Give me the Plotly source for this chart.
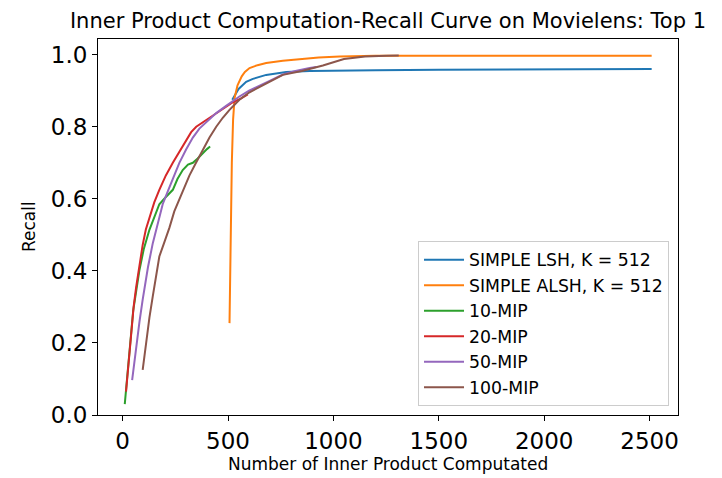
import plotly.graph_objects as go

# ---- data ----
lsh_x = [520, 550, 586, 618, 681, 776, 887, 1000, 1200, 1500, 1800, 2100, 2510]
lsh_y = [0.875, 0.905, 0.925, 0.933, 0.944, 0.952, 0.955, 0.956, 0.957, 0.958, 0.959, 0.960, 0.960]

alsh_x = [507, 510, 512, 515, 518, 524, 531, 545, 565, 580, 602, 640, 681, 760, 840, 930, 1030, 1200, 1500, 2000, 2510]
alsh_y = [0.255, 0.40, 0.55, 0.65, 0.70, 0.82, 0.88, 0.915, 0.94, 0.952, 0.963, 0.971, 0.977, 0.983, 0.988, 0.992, 0.995, 0.997, 0.997, 0.997, 0.997]

mip10_x = [10, 16, 30, 50, 79, 100, 127, 150, 174, 205, 238, 260, 285, 310, 333, 356, 380, 400, 415]
mip10_y = [0.03, 0.07, 0.17, 0.29, 0.40, 0.46, 0.514, 0.55, 0.585, 0.605, 0.625, 0.655, 0.68, 0.695, 0.70, 0.712, 0.727, 0.738, 0.745]

mip20_x = [16, 28, 40, 52, 64, 80, 95, 110, 127, 150, 174, 205, 238, 269, 301, 325, 349, 380, 412, 450, 491, 523, 560, 594]
mip20_y = [0.065, 0.15, 0.235, 0.30, 0.355, 0.42, 0.472, 0.515, 0.55, 0.59, 0.625, 0.665, 0.70, 0.73, 0.765, 0.785, 0.80, 0.812, 0.825, 0.84, 0.855, 0.868, 0.878, 0.89]

mip50_x = [45, 60, 80, 95, 120, 143, 165, 190, 215, 238, 269, 301, 333, 364, 400, 444, 491, 523, 554, 600, 650, 700, 760, 820, 887, 919]
mip50_y = [0.097, 0.17, 0.26, 0.32, 0.41, 0.477, 0.53, 0.585, 0.622, 0.655, 0.70, 0.737, 0.77, 0.795, 0.815, 0.838, 0.858, 0.872, 0.884, 0.90, 0.915, 0.928, 0.945, 0.955, 0.963, 0.966]

mip100_x = [95, 110, 127, 143, 160, 174, 198, 222, 245, 269, 293, 317, 348, 380, 412, 444, 475, 507, 554, 600, 650, 700, 760, 850, 950, 1050, 1150, 1250, 1310]
mip100_y = [0.125, 0.2, 0.27, 0.33, 0.39, 0.44, 0.48, 0.52, 0.565, 0.60, 0.635, 0.665, 0.70, 0.735, 0.77, 0.80, 0.825, 0.847, 0.875, 0.895, 0.91, 0.925, 0.944, 0.955, 0.97, 0.988, 0.995, 0.997, 0.998]

series = [
    ("SIMPLE LSH, K = 512", lsh_x, lsh_y, "#1f77b4"),
    ("SIMPLE ALSH, K = 512", alsh_x, alsh_y, "#ff7f0e"),
    ("10-MIP", mip10_x, mip10_y, "#2ca02c"),
    ("20-MIP", mip20_x, mip20_y, "#d62728"),
    ("50-MIP", mip50_x, mip50_y, "#9467bd"),
    ("100-MIP", mip100_x, mip100_y, "#8c564b"),
]

x_ticks = [0, 500, 1000, 1500, 2000, 2500]
y_ticks = [0.0, 0.2, 0.4, 0.6, 0.8, 1.0]

FONT = "DejaVu Sans"

fig = go.Figure()
for name, xs, ys, col in series:
    fig.add_trace(go.Scatter(x=xs, y=ys, mode="lines", name=name,
                             line=dict(color=col, width=2)))

W, H = 722, 478
L, R, T, B = 98, 44, 39, 63

fig.update_layout(
    width=W, height=H,
    margin=dict(l=L, r=R, t=T, b=B, pad=0),
    paper_bgcolor="white", plot_bgcolor="white",
    font=dict(family=FONT, color="#000000"),
    title=dict(text="Inner Product Computation-Recall Curve on Movielens: Top 1",
               x=0.5, xref="paper", xanchor="center",
               y=1 - 21 / H, yref="container", yanchor="middle",
               font=dict(size=21, family=FONT, color="#000000")),
    showlegend=True,
    legend=dict(x=0.9845, y=0.024, xanchor="right", yanchor="bottom",
                bgcolor="rgba(255,255,255,0.8)", bordercolor="#cccccc", borderwidth=1,
                font=dict(size=17.3, family=FONT, color="#000000"),
                tracegroupgap=0, itemwidth=40),
)

fig.update_xaxes(range=[-117, 2635], tickvals=x_ticks, ticktext=[str(v) for v in x_ticks],
                 showgrid=False, zeroline=False, showline=True, mirror=True,
                 linecolor="black", linewidth=1, ticks="outside", ticklen=5,
                 tickcolor="black", tickfont=dict(size=23, family=FONT, color="#000000"))
fig.update_yaxes(range=[0, 1.0436], tickvals=y_ticks, ticktext=[f"{v:.1f}" for v in y_ticks],
                 showgrid=False, zeroline=False, showline=True, mirror=True,
                 linecolor="black", linewidth=1, ticks="outside", ticklen=5,
                 tickcolor="black", tickfont=dict(size=23, family=FONT, color="#000000"))

fig.add_annotation(text="Number of Inner Product Computated", xref="paper", yref="paper",
                   x=0.5, y=(415 - 464) / 376, xanchor="center", yanchor="middle",
                   showarrow=False, font=dict(size=17, family=FONT, color="#000000"))
fig.add_annotation(text="Recall", xref="paper", yref="paper",
                   x=(29 - L) / (W - L - R), y=0.5, xanchor="center", yanchor="middle",
                   textangle=-90, showarrow=False, font=dict(size=17, family=FONT, color="#000000"))

fig.write_html("out.html", config={"displayModeBar": False},
               post_script="document.body.style.margin='0';document.body.style.padding='0';")
